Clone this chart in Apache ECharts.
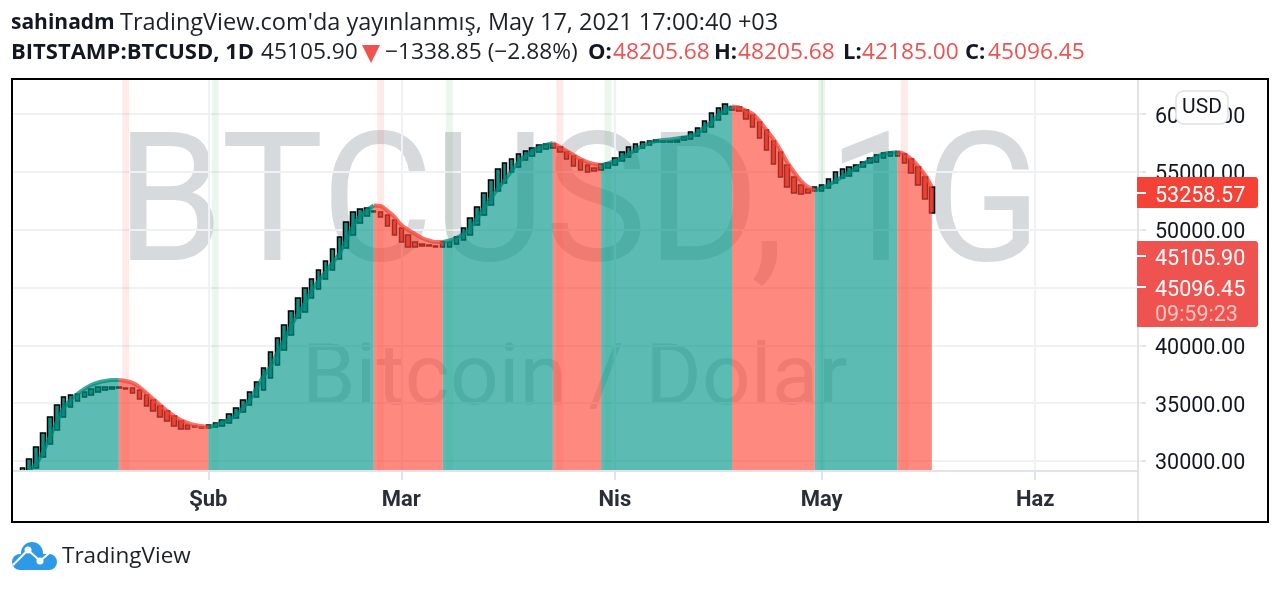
<!DOCTYPE html>
<html>
<head>
<meta charset="utf-8">
<style>
html, body { margin: 0; padding: 0; background: #fff; }
#main { width: 1280px; height: 589px; }
</style>
<script src="https://cdn.jsdelivr.net/npm/echarts@6/dist/echarts.min.js"></script>
</head>
<body>
<div id="main"></div>
<script>
// daily values, index 0 = 4 Jan 2021, last bar = 17 May 2021
var smoothLine = [null,null,29220,29740,30780,32080,33370,34580,35280,35800,36230,36570,36790,36920,37010,37010,36920,36750,36400,35880,35360,34840,34330,33890,33550,33290,33110,33030,32940,33110,33370,33590,33980,34580,35280,36310,37350,38130,39340,40470,41680,42720,43670,44790,45570,46350,47130,47910,49120,50330,51190,51710,52100,52060,51630,51110,50410,49980,49640,49290,49070,48940,48940,49070,49290,49640,50150,51020,51880,52750,53530,54310,55090,55860,56380,56820,57120,57330,57510,57160,56820,56470,56120,55860,55690,55600,55730,55950,56210,56560,56900,57250,57510,57680,57770,57810,57900,57980,58110,58370,58890,59320,59930,60360,60660,60580,60320,60020,59410,58630,57850,56900,55860,55000,54220,53700,53440,53610,53870,54220,54570,55000,55340,55690,56040,56300,56560,56640,56730,56560,56120,55520,54740,53700];
var candleOpen = [null,29140,29140,29390,30350,31470,32680,33810,34670,35190,35540,35710,35970,36140,36230,36400,36310,36310,36140,35710,35280,34760,34330,33890,33460,33110,33030,32940,32850,32940,33030,33290,33720,34240,34840,35540,36140,37180,38300,39600,40900,42370,42890,44100,44880,45740,46520,47470,48420,49550,50590,51190,51630,51540,51280,50850,50150,49550,48940,48770,48680,48600,48510,48510,48770,49120,49550,50410,51280,52140,53360,54050,55000,55430,56040,56380,56730,56990,57420,57160,56730,56380,56040,55600,55340,55170,55340,55600,55950,56300,56730,57070,57330,57590,57590,57590,57590,57770,57850,58110,58460,58890,59500,60020,60620,60620,60360,59930,59320,58630,57680,56730,55600,54570,53870,53530,53360,53360,53610,54050,54480,54650,55090,55430,55780,55860,56210,56380,56730,56560,56120,55430,54570,53700];
var candleClose = [null,29390,30170,31210,32420,33810,34840,35540,35710,35800,35970,36230,36400,36400,36400,36310,36230,35880,35360,34760,34330,33810,33460,33030,32770,32770,32940,32850,33110,33290,33550,34070,34580,35280,35970,36830,38040,39430,40640,41760,42980,44100,44960,45740,46520,47300,48340,49380,50670,51540,51800,51880,51540,51110,50330,49550,48940,48510,48510,48600,48600,48510,48940,48940,49380,50150,51020,51970,53180,54310,55260,55780,56120,56560,56820,57070,57330,57420,57070,56730,56120,55520,55170,55000,55090,55690,55780,56210,56730,57160,57420,57590,57680,57770,57680,57680,57770,58030,58460,58800,59410,60100,60530,60880,60360,60280,59580,58890,57940,56900,55690,54570,53700,53180,53100,53180,53700,53870,54390,55000,55260,55430,55600,55860,56210,56470,56640,56730,56380,55780,54910,53870,52660,51450];
// first index of each colour run of the filled curve, the last one closes the chart
var runStarts = [2,15,28,52,62,78,85,104,116,128,133];
var runColors = ['up','down','up','down','up','down','up','down','up','down'];
// background signal stripes
var sellSignals = [16,53,79,129];
var buySignals = [29,63,86,117];

var priceTicks = [30000,35000,40000,45000,50000,55000,60000];
var monthLabels = {'2021-02-01':'Şub','2021-03-01':'Mar','2021-04-01':'Nis','2021-05-01':'May','2021-06-01':'Haz'};

var categories = [];
for (var d = new Date(Date.UTC(2021,0,4)), n = 0; n < 164; n++) {
    categories.push(d.toISOString().slice(0,10));
    d.setUTCDate(d.getUTCDate()+1);
}

var PRICE_FONT = 'Roboto';
var HEAD_FONT = '"Open Sans"';
var Y_MIN = 29135, Y_MAX = 63040;

var series = [];

// stripes + grid lines
series.push({
    type: 'bar',
    barWidth: '100%',
    silent: true,
    z: 1,
    itemStyle: {color: 'rgba(255,82,82,0.12)'},
    data: categories.map(function (c, i) {
        if (sellSignals.indexOf(i) >= 0) return Y_MAX;
        if (buySignals.indexOf(i) >= 0) return {value: Y_MAX, itemStyle: {color: 'rgba(76,175,80,0.11)'}};
        return null;
    }),
    markLine: {
        silent: true,
        symbol: 'none',
        z: 1,
        label: {show: false},
        animation: false,
        lineStyle: {color: '#eff1f5', width: 2, type: 'solid'},
        data: priceTicks.map(function (v) { return {yAxis: v}; })
            .concat(Object.keys(monthLabels).map(function (k) { return {xAxis: k}; }))
    }
});

// candles sit under the translucent area
series.push({
    type: 'candlestick',
    barWidth: 5,
    silent: true,
    z: 2,
    itemStyle: {
        color: '#0b8f82',
        color0: '#d9382e',
        borderColor: '#000',
        borderColor0: '#000',
        borderWidth: 1.5
    },
    data: candleOpen.map(function (o, i) {
        var c = candleClose[i];
        if (o === null) return ['-','-','-','-'];
        return [o, c, Math.min(o,c), Math.max(o,c)];
    })
});

// filled curve, one line per colour run
for (var r = 0; r < runColors.length; r++) {
    (function (from, to, up) {
        series.push({
            type: 'line',
            smooth: 0.3,
            showSymbol: false,
            silent: true,
            z: 3,
            lineStyle: {color: up ? 'rgba(0,137,123,0.75)' : 'rgba(244,67,54,0.75)', width: 4},
            areaStyle: {color: up ? 'rgba(0,150,136,0.64)' : 'rgba(252,70,55,0.64)', opacity: 1, origin: 'start'},
            data: smoothLine.map(function (v, i) { return i >= from && i <= to ? v : null; })
        });
    })(runStarts[r], runStarts[r+1], runColors[r] === 'up');
}

function priceBox(y, h, color, lines) {
    var out = [{
        type: 'rect',
        shape: {x: 1137, y: y, width: 121, height: h, r: [0,3,3,0]},
        style: {fill: color},
        z: 20
    }];
    lines.forEach(function (l) {
        out.push({type: 'rect', shape: {x: 1137, y: l[0]-1, width: 9, height: 2}, style: {fill: '#fff'}, z: 21, invisible: !!l[3]});
        out.push({
            type: 'text', x: 1155, y: l[0]+4, z: 21,
            style: {text: l[1], fill: l[2], font: '21.5px ' + PRICE_FONT, verticalAlign: 'middle'}
        });
    });
    return out;
}

var red = '#ef5350';
// second header line, text + left edge + style
var headerParts = [
    ['BITSTAMP:BTCUSD, 1D', 11, 'b'], ['45105.90', 261, 'n'], ['−1338.85 (−2.88%)', 385, 'n'],
    ['O:', 588, 'b'], ['48205.68', 613, 'r'], ['H:', 714, 'b'], ['48205.68', 738, 'r'],
    ['L:', 843, 'b'], ['42185.00', 862, 'r'], ['C:', 965, 'b'], ['45096.45', 988, 'r']
];
var graphics = [
    // watermarks under the series
    {type: 'text', x: 116, y: 215, z: 0, scaleY: 1.05, style: {text: 'BTCUSD, 1G', fill: '#d7dadc', font: '172px Roboto', verticalAlign: 'middle'}},
    {type: 'text', x: 302, y: 382, z: 0, style: {text: 'Bitcoin / Dolar', fill: '#d7dadc', font: '86px Roboto', verticalAlign: 'middle'}},
    // header
    {type: 'text', x: 11, y: 23, z: 30, style: {text: 'sahinadm', fill: '#131722', font: 'bold 21px ' + HEAD_FONT, verticalAlign: 'middle'}},
    {type: 'text', x: 120, y: 23, z: 30, style: {text: 'TradingView.com\'da yayınlanmış, May 17, 2021 17:00:40 +03', fill: '#1c2126', font: '23.5px ' + HEAD_FONT, verticalAlign: 'middle'}},
    {type: 'polygon', shape: {points: [[362,45],[380,45],[371,63]]}, style: {fill: red}, z: 30},
    // price scale divider, frame
    {type: 'line', shape: {x1: 1138, y1: 79, x2: 1138, y2: 522}, style: {stroke: '#dfe2e8', lineWidth: 2}, z: 10},
    {type: 'line', shape: {x1: 12, y1: 471, x2: 1138, y2: 471}, style: {stroke: '#e0e3eb', lineWidth: 2}, z: 10},
    {type: 'rect', shape: {x: 12, y: 79, width: 1256, height: 443}, style: {fill: 'none', stroke: '#000', lineWidth: 2}, z: 40},
    // USD badge
    {type: 'rect', shape: {x: 1176, y: 91, width: 52, height: 33, r: 8}, style: {fill: '#fff', stroke: '#dfe1e3', lineWidth: 1.5}, z: 25},
    {type: 'text', x: 1202, y: 108, z: 26, style: {text: 'USD', fill: '#131722', font: '21px Roboto', align: 'center', verticalAlign: 'middle'}},
    // logo
    {type: 'circle', shape: {cx: 20, cy: 562, r: 8}, style: {fill: '#2e9ae6'}, z: 30},
    {type: 'circle', shape: {cx: 32, cy: 553, r: 11}, style: {fill: '#2e9ae6'}, z: 30},
    {type: 'circle', shape: {cx: 49, cy: 562, r: 8}, style: {fill: '#2e9ae6'}, z: 30},
    {type: 'rect', shape: {x: 20, y: 554, width: 29, height: 16}, style: {fill: '#2e9ae6'}, z: 30},
    {type: 'polyline', shape: {points: [[13,565],[28,550],[40,561],[54,549]]}, style: {stroke: '#fff', fill: 'none', lineWidth: 2}, z: 31},
    {type: 'circle', shape: {cx: 28, cy: 550, r: 3.5}, style: {fill: '#fff'}, z: 31},
    {type: 'circle', shape: {cx: 40, cy: 561, r: 3.5}, style: {fill: '#fff'}, z: 31},
    {type: 'text', x: 62, y: 557, z: 30, style: {text: 'TradingView', fill: '#1c2126', font: '22.5px ' + HEAD_FONT, verticalAlign: 'middle'}}
];
headerParts.forEach(function (p) {
    graphics.push({type: 'text', x: p[1], y: 53, z: 30, style: {
        text: p[0],
        fill: p[2] === 'r' ? red : (p[2] === 'b' ? '#131722' : '#1c2126'),
        font: (p[2] === 'b' ? 'bold 22px ' : '22.7px ') + HEAD_FONT,
        verticalAlign: 'middle'
    }});
});
graphics = graphics
    .concat(priceBox(177, 31, '#f44336', [[193, '53258.57', '#fff']]))
    .concat(priceBox(241, 86, red, [[256, '45105.90', '#fff'], [287, '45096.45', '#fff'], [312, '09:59:23', '#ffc4c1', true]]));

var myChart = echarts.init(document.getElementById('main'), null, {renderer: 'canvas'});
myChart.setOption({
    animation: false,
    backgroundColor: '#fff',
    grid: {left: 12, top: 79, width: 1130, height: 392, containLabel: false},
    xAxis: {
        type: 'category',
        data: categories,
        axisLine: {show: false},
        axisTick: {
            show: true,
            alignWithLabel: true,
            length: 9,
            lineStyle: {color: '#e0e3eb', width: 2},
            interval: function (i, v) { return !!monthLabels[v]; }
        },
        splitLine: {show: false},
        axisLabel: {
            margin: 18,
            fontFamily: PRICE_FONT,
            fontSize: 22,
            fontWeight: 'bold',
            color: '#2a2e39',
            interval: function (i, v) { return !!monthLabels[v]; },
            formatter: function (v) { return monthLabels[v] || ''; }
        }
    },
    yAxis: {
        type: 'value',
        position: 'right',
        offset: -4,
        min: Y_MIN,
        max: Y_MAX,
        axisLine: {show: false},
        splitLine: {show: false},
        axisTick: {show: true, length: 8, lineStyle: {color: '#e0e3eb', width: 2}, customValues: priceTicks},
        axisLabel: {
            customValues: priceTicks,
            margin: 17,
            fontFamily: PRICE_FONT,
            fontSize: 21.5,
            color: '#131722',
            formatter: function (v) { return '{p|' + v.toFixed(2) + '}'; },
            rich: {p: {fontFamily: PRICE_FONT, fontSize: 21.5, color: '#131722', padding: [6,0,0,0]}}
        }
    },
    series: series,
    graphic: {elements: graphics}
});
</script>
</body>
</html>
